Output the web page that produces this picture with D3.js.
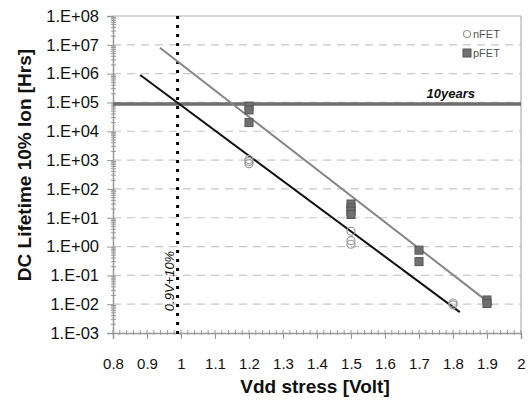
<!DOCTYPE html>
<html><head><meta charset="utf-8">
<script src="https://cdn.jsdelivr.net/npm/d3@7"></script>
<style>body{margin:0;background:#fff}svg{display:block;font-family:Arial,"Liberation Sans",sans-serif}</style>
</head><body><svg id="c" width="528" height="401"></svg>
<script>
const nfetX = [1.2, 1.2, 1.2, 1.5, 1.5, 1.5, 1.8, 1.8];
const nfetY = [1050, 900, 750, 3.4, 1.6, 1.2, 0.011, 0.0095];
const pfetX = [1.2, 1.2, 1.2, 1.5, 1.5, 1.5, 1.5, 1.7, 1.7, 1.9, 1.9];
const pfetY = [75000, 55000, 20000, 30, 22, 17, 13, 0.75, 0.3, 0.014, 0.0105];
const nfetFitX = [0.88, 1.82];
const nfetFitY = [900000, 0.0053];
const pfetFitX = [0.938, 1.915];
const pfetFitY = [7900000, 0.0093];
const tenYears = 87600;
const vddSpec = 0.99;
const xTicks = [0.8,0.9,1.0,1.1,1.2,1.3,1.4,1.5,1.6,1.7,1.8,1.9,2.0];
const yTicks = [1e-3,1e-2,1e-1,1e0,1e1,1e2,1e3,1e4,1e5,1e6,1e7,1e8];
const yTickLabels = ["1.E-03","1.E-02","1.E-01","1.E+00","1.E+01","1.E+02","1.E+03","1.E+04","1.E+05","1.E+06","1.E+07","1.E+08"];

const svg = d3.select("#c");
const L=113, R=521, T=16, B=333;
const x = d3.scaleLinear().domain([0.8,2.0]).range([L,R]);
const y = d3.scaleLog().domain([1e-3,1e8]).range([B,T]);

// grid
svg.append("g").selectAll("line").data(yTicks.slice(1,-1)).join("line")
  .attr("x1",L).attr("x2",R).attr("y1",d=>y(d)).attr("y2",d=>y(d))
  .attr("stroke","#c8c8c8").attr("stroke-width",1.2).attr("stroke-dasharray","8,6");
// frame top/right
svg.append("line").attr("x1",L).attr("x2",R).attr("y1",T).attr("y2",T).attr("stroke","#b0b0b0").attr("stroke-width",1.2);
svg.append("line").attr("x1",R).attr("x2",R).attr("y1",T).attr("y2",B).attr("stroke","#b0b0b0").attr("stroke-width",1.2);

// minor ticks
const minorY=[];
for(let e=-3;e<8;e++) for(let m=2;m<10;m++) minorY.push(m*Math.pow(10,e));
svg.append("g").selectAll("line").data(minorY).join("line")
  .attr("x1",L-2).attr("x2",L+3).attr("y1",d=>y(d)).attr("y2",d=>y(d)).attr("stroke","#999");
const minorX=d3.range(0,61).map(i=>0.8+i*0.02);
svg.append("g").selectAll("line").data(minorX).join("line")
  .attr("x1",d=>x(d)).attr("x2",d=>x(d)).attr("y1",B-3).attr("y2",B+2).attr("stroke","#999");

// axes
const yAxis = d3.axisLeft(y).tickValues(yTicks).tickFormat((d,i)=>yTickLabels[i]).tickSize(6).tickPadding(8);
const gy = svg.append("g").attr("transform",`translate(${L},0)`).call(yAxis);
const xAxis = d3.axisBottom(x).tickValues(xTicks).tickFormat(d=>d3.format("")(+d.toFixed(1))).tickSize(6).tickPadding(19);
const gx = svg.append("g").attr("transform",`translate(0,${B})`).call(xAxis);
[gx,gy].forEach(g=>{
  g.select(".domain").attr("stroke","#999").attr("stroke-width",1.5);
  g.selectAll(".tick line").attr("stroke","#999");
  g.selectAll("text").attr("fill","#111").attr("font-family","Arial,'Liberation Sans',sans-serif");
});
gy.selectAll("text").attr("font-size",16.5);
gx.selectAll("text").attr("font-size",15);

// 10 years line
svg.append("line").attr("x1",L).attr("x2",R).attr("y1",y(tenYears)).attr("y2",y(tenYears))
  .attr("stroke","#6e6e6e").attr("stroke-width",3.5);
svg.append("text").attr("x",475).attr("y",y(tenYears)-6).attr("text-anchor","end")
  .attr("font-size",13).attr("font-weight","bold").attr("font-style","italic").attr("fill","#111").text("10years");

// dotted spec line
svg.append("line").attr("x1",x(vddSpec)).attr("x2",x(vddSpec)).attr("y1",T).attr("y2",B+4)
  .attr("stroke","#000").attr("stroke-width",3).attr("stroke-dasharray","3,6");
svg.append("text").attr("transform",`translate(${x(vddSpec)-4},${281}) rotate(-90)`).attr("text-anchor","middle")
  .attr("font-size",13).attr("font-style","italic").attr("fill","#111").text("0.9V+10%");

// fit lines
const line = d3.line().x(d=>x(d[0])).y(d=>y(d[1]));
svg.append("path").attr("d",line(pfetFitX.map((v,i)=>[v,pfetFitY[i]]))).attr("fill","none").attr("stroke","#858585").attr("stroke-width",2);
svg.append("path").attr("d",line(nfetFitX.map((v,i)=>[v,nfetFitY[i]]))).attr("fill","none").attr("stroke","#111").attr("stroke-width",2);

// points
svg.append("g").selectAll("circle").data(nfetX.map((v,i)=>[v,nfetY[i]])).join("circle")
  .attr("cx",d=>x(d[0])).attr("cy",d=>y(d[1])).attr("r",4).attr("fill","none").attr("stroke","#999").attr("stroke-width",1.2);
svg.append("g").selectAll("rect").data(pfetX.map((v,i)=>[v,pfetY[i]])).join("rect")
  .attr("x",d=>x(d[0])-4).attr("y",d=>y(d[1])-4).attr("width",8).attr("height",8)
  .attr("fill","#707070").attr("stroke","#555").attr("stroke-width",1);

// legend
svg.append("circle").attr("cx",467).attr("cy",34).attr("r",3.5).attr("fill","none").attr("stroke","#999").attr("stroke-width",1.2);
svg.append("text").attr("x",473).attr("y",38).attr("font-size",11).attr("fill","#555").text("nFET");
svg.append("rect").attr("x",463).attr("y",49).attr("width",8).attr("height",8).attr("fill","#707070").attr("stroke","#555");
svg.append("text").attr("x",473).attr("y",57).attr("font-size",11).attr("fill","#555").text("pFET");

// axis titles
svg.append("text").attr("x",315).attr("y",393).attr("text-anchor","middle").attr("font-size",19).attr("font-weight","bold").attr("fill","#111").text("Vdd stress [Volt]");
svg.append("text").attr("transform",`translate(31,165) rotate(-90)`).attr("text-anchor","middle").attr("font-size",19).attr("font-weight","bold").attr("fill","#111").text("DC Lifetime 10% Ion [Hrs]");
</script></body></html>
